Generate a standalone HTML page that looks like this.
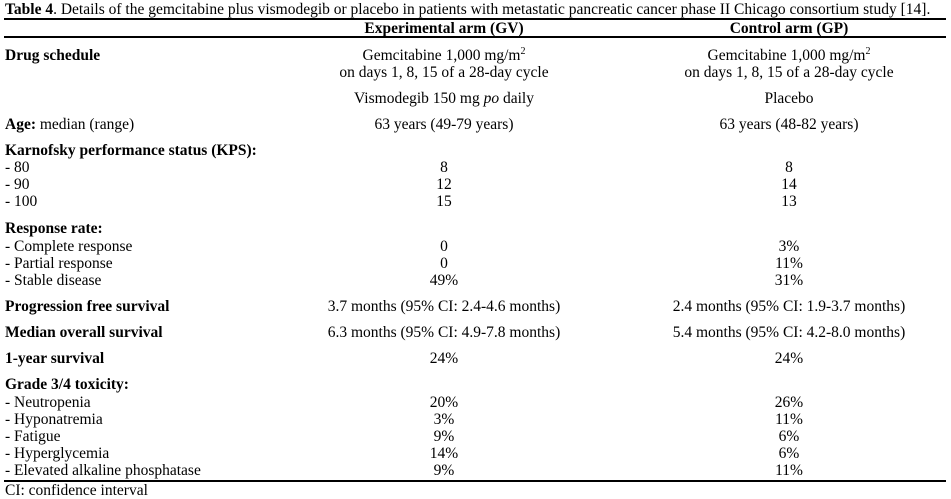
<!DOCTYPE html><html><head><style>
body{margin:0;width:951px;height:499px;background:#fff;position:relative;font-family:"Liberation Serif",serif;font-size:15.5px;color:#000;overflow:hidden}
div{position:absolute;line-height:16px;white-space:nowrap}
.l{left:5px}.a{left:244px;width:400px;text-align:center}.b{left:589px;width:400px;text-align:center}
.h{height:2px;background:#000;left:4px;width:942px}
sup{font-size:10px;line-height:0;vertical-align:6px}
</style></head><body>
<div class="l" style="top:2px"><b>Table 4</b>. Details of the gemcitabine plus vismodegib or placebo in patients with metastatic pancreatic cancer phase II Chicago consortium study [14].</div>
<div class="h" style="top:18px"></div>
<div class="a" style="top:21px"><b>Experimental arm (GV)</b></div>
<div class="b" style="top:21px"><b>Control arm (GP)</b></div>
<div class="h" style="top:36px"></div>
<div class="l" style="top:48px"><b>Drug schedule</b></div>
<div class="a" style="top:48px">Gemcitabine 1,000 mg/m<sup>2</sup></div>
<div class="b" style="top:48px">Gemcitabine 1,000 mg/m<sup>2</sup></div>
<div class="a" style="top:65px">on days 1, 8, 15 of a 28-day cycle</div>
<div class="b" style="top:65px">on days 1, 8, 15 of a 28-day cycle</div>
<div class="a" style="top:91px">Vismodegib 150 mg <i>po</i> daily</div>
<div class="b" style="top:91px">Placebo</div>
<div class="l" style="top:117px"><b>Age:</b> median (range)</div>
<div class="a" style="top:117px">63 years (49-79 years)</div>
<div class="b" style="top:117px">63 years (48-82 years)</div>
<div class="l" style="top:143px"><b>Karnofsky performance status (KPS):</b></div>
<div class="l" style="top:160px">- 80</div><div class="a" style="top:160px">8</div><div class="b" style="top:160px">8</div>
<div class="l" style="top:177px">- 90</div><div class="a" style="top:177px">12</div><div class="b" style="top:177px">14</div>
<div class="l" style="top:194px">- 100</div><div class="a" style="top:194px">15</div><div class="b" style="top:194px">13</div>
<div class="l" style="top:221px"><b>Response rate:</b></div>
<div class="l" style="top:239px">- Complete response</div><div class="a" style="top:239px">0</div><div class="b" style="top:239px">3%</div>
<div class="l" style="top:256px">- Partial response</div><div class="a" style="top:256px">0</div><div class="b" style="top:256px">11%</div>
<div class="l" style="top:273px">- Stable disease</div><div class="a" style="top:273px">49%</div><div class="b" style="top:273px">31%</div>
<div class="l" style="top:299px"><b>Progression free survival</b></div>
<div class="a" style="top:299px">3.7 months (95% CI: 2.4-4.6 months)</div>
<div class="b" style="top:299px">2.4 months (95% CI: 1.9-3.7 months)</div>
<div class="l" style="top:325px"><b>Median overall survival</b></div>
<div class="a" style="top:325px">6.3 months (95% CI: 4.9-7.8 months)</div>
<div class="b" style="top:325px">5.4 months (95% CI: 4.2-8.0 months)</div>
<div class="l" style="top:351px"><b>1-year survival</b></div>
<div class="a" style="top:351px">24%</div><div class="b" style="top:351px">24%</div>
<div class="l" style="top:377px"><b>Grade 3/4 toxicity:</b></div>
<div class="l" style="top:395px">- Neutropenia</div><div class="a" style="top:395px">20%</div><div class="b" style="top:395px">26%</div>
<div class="l" style="top:412px">- Hyponatremia</div><div class="a" style="top:412px">3%</div><div class="b" style="top:412px">11%</div>
<div class="l" style="top:429px">- Fatigue</div><div class="a" style="top:429px">9%</div><div class="b" style="top:429px">6%</div>
<div class="l" style="top:446px">- Hyperglycemia</div><div class="a" style="top:446px">14%</div><div class="b" style="top:446px">6%</div>
<div class="l" style="top:463px">- Elevated alkaline phosphatase</div><div class="a" style="top:463px">9%</div><div class="b" style="top:463px">11%</div>
<div class="h" style="top:480px"></div>
<div class="l" style="top:483px">CI: confidence interval</div>
</body></html>
